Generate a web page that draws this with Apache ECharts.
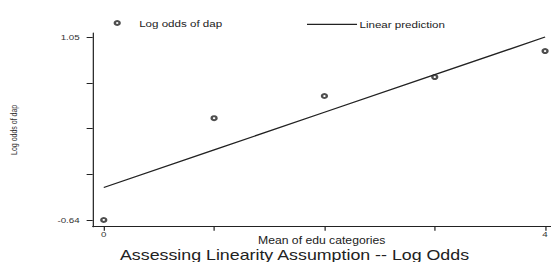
<!DOCTYPE html>
<html>
<head>
<meta charset="utf-8">
<script src="https://cdn.jsdelivr.net/npm/echarts@6/dist/echarts.min.js"></script>
<style>
  html, body { margin: 0; padding: 0; background: #fff; overflow: hidden; }
  /* the source graph was exported stretched sideways, so the chart is drawn narrow and widened */
  #chart { width: 451.6px; height: 262px; transform: scaleX(1.22); transform-origin: 0 0; }
</style>
</head>
<body>
<div id="chart"></div>
<script>
const SX = 1.22;

const eduMeans = [0, 1, 2, 3, 4];
const logOdds = [-0.64, 0.30, 0.505, 0.68, 0.92];
const linearPred = [-0.34, 0.007, 0.355, 0.702, 1.05];

const xTicks = [0, 1, 2, 3, 4];
const xTickLabels = [0, 4];
const yTicks = [-0.64, -0.2175, 0.205, 0.6275, 1.05];
const yTickLabels = [-0.64, 1.05];

const font = "'Liberation Sans', Arial, sans-serif";
const ink = "#222";

const zip = (xs, ys) => xs.map((x, i) => [x, ys[i]]);

const el = document.getElementById("chart");
const chart = echarts.init(el, null, { renderer: "svg" });

const option = {
  backgroundColor: "#fff",
  animation: false,
  title: {
    text: "Assessing Linearity Assumption -- Log Odds",
    left: 120 / SX,
    top: 247.8,
    padding: 0,
    textStyle: { fontFamily: font, fontSize: 14.6, lineHeight: 13, fontWeight: "normal", color: ink },
  },
  legend: [
    {
      data: [{ name: "Log odds of dap", icon: "emptyCircle" }],
      left: 116 / SX - 2,
      top: 18,
      padding: 0,
      itemWidth: 4,
      itemHeight: 4,
      itemStyle: { borderWidth: 1 },
      textStyle: { fontFamily: font, fontSize: 9.5, color: ink, padding: [0, 0, 0, 11] },
    },
    {
      data: [{ name: "Linear prediction", icon: "rect" }],
      left: 307 / SX,
      top: 19.3,
      padding: 0,
      itemWidth: 41,
      itemHeight: 1.3,
      textStyle: { fontFamily: font, fontSize: 9.5, color: ink, padding: [0, 0, 0, -3] },
    },
  ],
  grid: {
    left: 91 / SX,
    right: 0,
    top: 33,
    bottom: 35.3,
    containLabel: false,
  },
  xAxis: {
    type: "value",
    min: -0.1,
    max: 4.05,
    name: "Mean of edu categories",
    nameLocation: "middle",
    nameGap: 10,
    nameMoveOverlap: false,
    nameTextStyle: { fontFamily: font, fontSize: 10, lineHeight: 8, color: ink },
    axisLine: { onZero: false, lineStyle: { color: ink, width: 1 } },
    axisTick: { customValues: xTicks, length: 4, lineStyle: { color: ink } },
    axisLabel: {
      customValues: xTickLabels,
      margin: 4,
      fontFamily: font,
      fontSize: 8,
      color: "#333",
    },
    splitLine: { show: false },
  },
  yAxis: {
    type: "value",
    min: -0.702,
    max: 1.087,
    name: "Log odds of dap",
    nameLocation: "middle",
    nameGap: 61,
    nameMoveOverlap: false,
    nameTextStyle: { fontFamily: font, fontSize: 7, color: "#333" },
    axisLine: { onZero: false, lineStyle: { color: ink, width: 1 } },
    axisTick: { customValues: yTicks, length: 5, lineStyle: { color: ink } },
    axisLabel: {
      customValues: yTickLabels,
      margin: 10.7,
      fontFamily: font,
      fontSize: 8,
      color: "#333",
    },
    splitLine: { show: false },
  },
  series: [
    {
      name: "Log odds of dap",
      type: "scatter",
      data: zip(eduMeans, logOdds),
      symbol: "emptyCircle",
      symbolSize: 4,
      itemStyle: { color: ink, borderColor: ink, borderWidth: 1 },
      z: 3,
    },
    {
      name: "Linear prediction",
      type: "line",
      data: zip(eduMeans, linearPred),
      showSymbol: false,
      symbol: "none",
      lineStyle: { color: ink, width: 1.3 },
      itemStyle: { color: ink },
      z: 2,
    },
  ],
};

chart.setOption(option);
</script>
</body>
</html>
